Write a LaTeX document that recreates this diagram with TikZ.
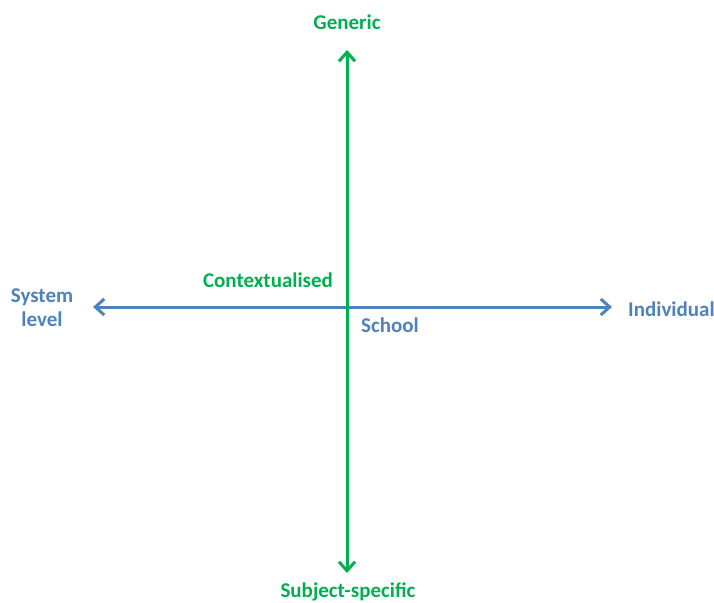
\documentclass[tikz,border=0pt]{standalone}
\usepackage{fontspec}
\setmainfont{Carlito}
\usetikzlibrary{arrows.meta}
\definecolor{offgreen}{HTML}{00B050}
\definecolor{offblue}{HTML}{4F81BD}
\begin{document}
\begin{tikzpicture}[x=1pt,y=-1pt,
  lbl/.style={font=\fontsize{21}{24}\selectfont\bfseries, inner sep=0pt},
  glbl/.style={lbl, text=offgreen},
  blbl/.style={lbl, text=offblue},
  axis/.style={line width=3pt, {Straight Barb[length=9pt,width=16pt,line width=3pt]}-{Straight Barb[length=9pt,width=16pt,line width=3pt]}}]
\useasboundingbox (0,0) rectangle (714,602);
\coordinate (top) at (347,50);
\coordinate (bot) at (347,573);
\coordinate (lft) at (93,307);
\coordinate (rgt) at (612,307);
\draw[axis, offblue] (lft) -- (rgt);
\draw[axis, offgreen] (bot) -- (top);
\node[glbl] (gen) at (347,22) {Generic};
\node[glbl] (sub) at (348,592) {Subject-specific};
\node[glbl] (ctx) at (268,280) {Contextualised};
\node[blbl, align=center] (sys) at (42,308) {System\\level};
\node[blbl] (sch) at (390,325) {School};
\node[blbl, anchor=west] (ind) at (628,309) {Individual};
\end{tikzpicture}
\end{document}
